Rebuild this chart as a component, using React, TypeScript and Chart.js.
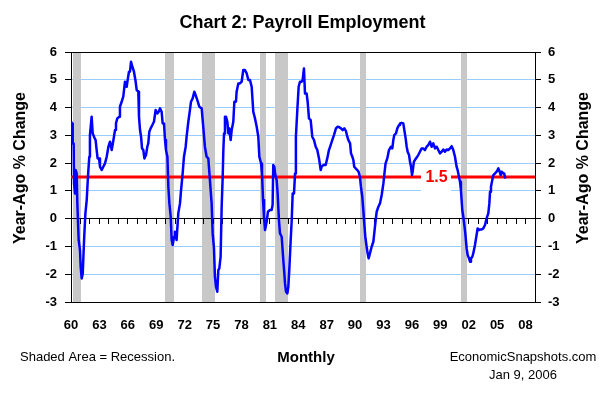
import React, { useEffect, useRef } from 'react';
import { Chart, registerables } from 'chart.js';

Chart.register(...registerables);

const FONT = '"Liberation Sans", Arial, Helvetica, sans-serif';

const chartTitle = 'Chart 2: Payroll Employment';
const yAxisTitle = 'Year-Ago % Change';
const xAxisTitle = 'Monthly';
const noteText = 'Shaded Area = Recession.';
const sourceText = 'EconomicSnapshots.com';
const dateText = 'Jan 9, 2006';

const xMin = 1960;
const xMax = 2009;
const yMin = -3;
const yMax = 6;

const labelYears = [1960, 1963, 1966, 1969, 1972, 1975, 1978, 1981, 1984, 1987, 1990, 1993, 1996, 1999, 2002, 2005, 2008];
const tickYears = [
  1961, 1962, 1963, 1964, 1965, 1966, 1967, 1968, 1969, 1970, 1971, 1972, 1973, 1974, 1975, 1976,
  1977, 1978, 1979, 1980, 1981, 1982, 1983, 1984, 1985, 1986, 1987, 1988, 1989, 1990, 1991, 1992,
  1993, 1994, 1995, 1996, 1997, 1998, 1999, 2000, 2001, 2002, 2003, 2004, 2005, 2006, 2007, 2008,
];

const recessionStarts = [1960.25, 1969.92, 1973.83, 1980.0, 1981.5, 1990.5, 2001.17];
const recessionEnds = [1961.1, 1970.87, 1975.2, 1980.55, 1982.87, 1991.2, 2001.87];

const refLevel = 1.5;
const refLabelYear = 1998.6;

// Payroll employment, year-ago % change
const dates = [
  1960.0, 1960.11, 1960.18, 1960.28, 1960.32, 1960.42, 1960.49, 1960.6, 1960.67, 1960.81,
  1960.95, 1961.02, 1961.13, 1961.24, 1961.38, 1961.52, 1961.66, 1961.79, 1961.93, 1962.0,
  1962.18, 1962.29, 1962.36, 1962.5, 1962.6, 1962.71, 1962.81, 1962.96, 1963.06, 1963.24,
  1963.41, 1963.59, 1963.77, 1963.95, 1964.12, 1964.3, 1964.48, 1964.65, 1964.75, 1964.89,
  1965.1, 1965.17, 1965.35, 1965.52, 1965.7, 1965.88, 1965.98, 1966.12, 1966.23, 1966.34,
  1966.48, 1966.65, 1966.83, 1966.94, 1967.11, 1967.18, 1967.29, 1967.4, 1967.5, 1967.64,
  1967.75, 1967.92, 1968.06, 1968.16, 1968.27, 1968.41, 1968.59, 1968.76, 1968.94, 1969.12,
  1969.26, 1969.4, 1969.57, 1969.68, 1969.82, 1969.93, 1970.03, 1970.18, 1970.28, 1970.39,
  1970.53, 1970.63, 1970.74, 1970.88, 1970.98, 1971.15, 1971.33, 1971.51, 1971.61, 1971.79,
  1971.93, 1972.11, 1972.21, 1972.39, 1972.56, 1972.67, 1972.85, 1973.02, 1973.16, 1973.34,
  1973.55, 1973.8, 1973.98, 1974.14, 1974.32, 1974.5, 1974.67, 1974.85, 1974.96, 1975.1,
  1975.2, 1975.31, 1975.45, 1975.56, 1975.66, 1975.8, 1975.91, 1976.02, 1976.09, 1976.16,
  1976.26, 1976.37, 1976.51, 1976.62, 1976.72, 1976.86, 1976.97, 1977.14, 1977.25, 1977.42,
  1977.49, 1977.67, 1977.84, 1978.02, 1978.19, 1978.37, 1978.55, 1978.73, 1978.9, 1979.08,
  1979.25, 1979.43, 1979.61, 1979.78, 1979.89, 1980.07, 1980.17, 1980.28, 1980.38, 1980.49,
  1980.66, 1980.8, 1981.01, 1981.19, 1981.29, 1981.36, 1981.47, 1981.58, 1981.72, 1981.82,
  1981.96, 1982.07, 1982.25, 1982.42, 1982.53, 1982.6, 1982.71, 1982.85, 1982.95, 1983.06,
  1983.2, 1983.31, 1983.41, 1983.55, 1983.66, 1983.75, 1983.9, 1984.04, 1984.18, 1984.36,
  1984.46, 1984.6, 1984.71, 1984.88, 1984.99, 1985.13, 1985.31, 1985.48, 1985.66, 1985.84,
  1986.01, 1986.19, 1986.37, 1986.47, 1986.65, 1986.89, 1987.06, 1987.24, 1987.42, 1987.59,
  1987.77, 1987.98, 1988.16, 1988.34, 1988.51, 1988.69, 1988.86, 1989.04, 1989.18, 1989.29,
  1989.47, 1989.57, 1989.71, 1989.82, 1989.91, 1990.06, 1990.23, 1990.37, 1990.51, 1990.62,
  1990.76, 1990.87, 1990.97, 1991.08, 1991.22, 1991.33, 1991.43, 1991.57, 1991.75, 1991.93,
  1992.1, 1992.28, 1992.46, 1992.63, 1992.81, 1992.99, 1993.08, 1993.22, 1993.4, 1993.58,
  1993.79, 1993.93, 1994.04, 1994.14, 1994.32, 1994.46, 1994.64, 1994.74, 1994.92, 1995.09,
  1995.2, 1995.34, 1995.45, 1995.55, 1995.7, 1995.8, 1995.91, 1996.01, 1996.08, 1996.21,
  1996.32, 1996.5, 1996.67, 1996.85, 1997.03, 1997.2, 1997.38, 1997.56, 1997.73, 1997.91,
  1998.09, 1998.26, 1998.44, 1998.62, 1998.79, 1998.97, 1999.15, 1999.32, 1999.49, 1999.67,
  1999.84, 2000.02, 2000.2, 2000.37, 2000.55, 2000.72, 2000.83, 2000.97, 2001.08, 2001.18,
  2001.32, 2001.43, 2001.54, 2001.64, 2001.78, 2001.89, 2002.03, 2002.14, 2002.24, 2002.38,
  2002.48, 2002.66, 2002.83, 2002.94, 2003.08, 2003.19, 2003.36, 2003.54, 2003.72, 2003.89,
  2004.07, 2004.18, 2004.25, 2004.35, 2004.49, 2004.6, 2004.78, 2004.95, 2005.13, 2005.23,
  2005.38, 2005.48, 2005.65, 2005.75, 2005.86,
];

const payroll = [
  3.49, 3.43, 2.71, 2.71, 1.27, 0.91, 1.75, 1.63, 0.55, -0.77,
  -1.13, -1.73, -2.15, -1.97, -0.77, 0.19, 0.67, 1.51, 2.23, 3.01,
  3.67, 3.07, 3.01, 2.89, 2.83, 2.47, 2.17, 2.17, 1.87, 1.75,
  1.87, 1.99, 2.23, 2.59, 2.77, 2.47, 2.83, 3.19, 3.43, 3.61,
  3.67, 4.03, 4.21, 4.39, 4.93, 4.75, 4.99, 5.29, 5.29, 5.65,
  5.47, 5.29, 4.93, 4.63, 4.57, 3.67, 3.19, 2.95, 2.53, 2.47,
  2.17, 2.29, 2.59, 2.71, 3.13, 3.25, 3.37, 3.49, 3.91, 3.79,
  3.85, 3.97, 3.85, 3.43, 3.43, 2.83, 2.47, 2.23, 1.15, 0.55,
  0.07, -0.77, -0.95, -0.65, -0.47, -0.77, 0.19, 0.55, 0.97, 1.63,
  2.23, 2.59, 2.95, 3.49, 3.91, 4.21, 4.33, 4.57, 4.45, 4.27,
  4.03, 3.97, 3.25, 2.59, 2.23, 2.17, 1.39, 0.55, -0.53, -1.07,
  -2.09, -2.45, -2.63, -1.85, -1.8, -1.37, 0.43, 1.51, 2.47, 3.07,
  3.67, 3.67, 3.49, 3.07, 3.25, 2.83, 3.19, 3.49, 4.21, 4.21,
  4.57, 4.87, 4.87, 4.93, 5.35, 5.35, 5.23, 4.99, 4.99, 4.75,
  3.85, 3.61, 3.31, 2.95, 2.23, 1.99, 1.63, 0.67, 0.07, -0.41,
  -0.11, 0.25, 0.31, 0.31, 0.49, 1.93, 1.87, 1.57, 1.39, 0.91,
  -0.05, -0.53, -0.65, -1.49, -1.97, -2.33, -2.63, -2.69, -2.45, -1.79,
  -0.77, -0.05, 0.91, 0.91, 1.63, 2.95, 3.91, 4.75, 4.93, 4.93,
  4.99, 5.41, 4.51, 4.51, 4.21, 3.61, 3.55, 2.95, 2.83, 2.59,
  2.47, 2.17, 1.75, 1.87, 1.93, 1.93, 2.17, 2.47, 2.65, 2.83,
  3.01, 3.25, 3.31, 3.29, 3.25, 3.19, 3.25, 3.15, 2.95, 2.83,
  2.71, 2.35, 2.23, 2.11, 1.87, 1.81, 1.75, 1.69, 1.51, 1.15,
  0.79, 0.31, -0.17, -0.65, -1.01, -1.25, -1.43, -1.25, -1.01, -0.83,
  -0.29, 0.25, 0.43, 0.55, 0.85, 1.27, 1.57, 1.99, 2.17, 2.47,
  2.59, 2.53, 2.83, 3.01, 3.07, 3.25, 3.37, 3.43, 3.45, 3.43,
  3.19, 2.89, 2.59, 2.41, 2.29, 2.05, 1.87, 1.57, 1.69, 2.05,
  2.11, 2.2, 2.29, 2.41, 2.53, 2.53, 2.47, 2.59, 2.65, 2.77,
  2.59, 2.71, 2.53, 2.59, 2.47, 2.35, 2.41, 2.49, 2.41, 2.49,
  2.47, 2.53, 2.61, 2.47, 2.23, 1.87, 1.75, 1.51, 1.33, 1.03,
  0.31, 0.07, -0.23, -0.53, -1.07, -1.31, -1.43, -1.55, -1.43, -1.37,
  -1.25, -0.95, -0.59, -0.35, -0.41, -0.39, -0.39, -0.35, -0.23, 0.01,
  0.19, 0.55, 0.97, 1.15, 1.39, 1.57, 1.63, 1.69, 1.81, 1.73,
  1.57, 1.69, 1.63, 1.63, 1.45,
];

const lineColor = '#0000FF';
const refColor = '#FF0000';
const gridColor = '#99CCFF';
const recessionColor = '#C8C8C8';

const decorPlugin = {
  id: 'decor',
  beforeDatasetsDraw(chart: any) {
    const { ctx, chartArea, scales } = chart;
    const xs = scales.x;
    const top = scales.y.getPixelForValue(yMax);
    const bottom = scales.y.getPixelForValue(yMin);
    ctx.save();
    ctx.fillStyle = recessionColor;
    recessionStarts.forEach((s, i) => {
      const x1 = Math.round(xs.getPixelForValue(s));
      const x2 = Math.round(xs.getPixelForValue(recessionEnds[i]));
      ctx.fillRect(x1, Math.round(top) + 1, x2 - x1, Math.round(bottom) - Math.round(top) - 1);
    });
    ctx.restore();
    const zeroAxis = scales.x0;
    ctx.save();
    zeroAxis.drawGrid(chartArea);
    zeroAxis.drawBorder();
    ctx.restore();
  },
  afterDatasetsDraw(chart: any) {
    const { ctx, scales } = chart;
    const x = scales.x.getPixelForValue(refLabelYear);
    const y = scales.y.getPixelForValue(refLevel);
    const txt = String(refLevel);
    ctx.save();
    ctx.font = `bold 16px ${FONT}`;
    const w = ctx.measureText(txt).width;
    ctx.fillStyle = '#FFFFFF';
    ctx.fillRect(Math.round(x - w / 2 - 4), Math.round(y - 12), Math.round(w + 8), 30);
    ctx.fillStyle = refColor;
    ctx.textAlign = 'center';
    ctx.textBaseline = 'middle';
    ctx.fillText(txt, x, y + 1);
    ctx.restore();
  },
  afterDraw(chart: any) {
    const { ctx } = chart;
    ctx.save();
    ctx.fillStyle = '#000000';
    ctx.textBaseline = 'middle';
    ctx.textAlign = 'center';
    ctx.font = `bold 16px ${FONT}`;
    [21, 584].forEach((cx) => {
      ctx.save();
      ctx.translate(cx, 168);
      ctx.rotate(-Math.PI / 2);
      ctx.fillText(yAxisTitle, 0, 0);
      ctx.restore();
    });
    ctx.font = `bold 15px ${FONT}`;
    ctx.fillText(xAxisTitle, 306, 358);
    ctx.font = `13px ${FONT}`;
    ctx.textAlign = 'left';
    ctx.fillText(noteText, 20, 357);
    ctx.textAlign = 'center';
    ctx.fillText(sourceText, 523, 357);
    ctx.fillText(dateText, 523, 375);
    ctx.restore();
  },
};

export default function App() {
  const ref = useRef<HTMLCanvasElement>(null);
  useEffect(() => {
    document.body.style.margin = '0';
    const canvas = ref.current;
    if (!canvas) return;
    const tickFont = { family: FONT, size: 13, weight: 'bold' as const };
    const chart = new Chart(canvas, {
      type: 'line',
      data: {
        datasets: [
          {
            label: 'Payroll',
            data: dates.map((d, i) => ({ x: d, y: payroll[i] })),
            borderColor: lineColor,
            borderWidth: 2.5,
            pointRadius: 0,
            tension: 0,
            borderJoinStyle: 'round',
            xAxisID: 'x',
            yAxisID: 'y',
            order: 0,
          },
          {
            label: 'Ref',
            data: [
              { x: xMin, y: refLevel },
              { x: xMax, y: refLevel },
            ],
            borderColor: refColor,
            borderWidth: 3,
            pointRadius: 0,
            xAxisID: 'x',
            yAxisID: 'y',
            order: 1,
          },
        ],
      },
      options: {
        responsive: false,
        animation: false,
        devicePixelRatio: 1,
        layout: { padding: 0 },
        events: [],
        plugins: {
          legend: { display: false },
          tooltip: { enabled: false },
          title: {
            display: true,
            text: chartTitle,
            color: '#000000',
            font: { family: FONT, size: 18, weight: 'bold' },
            padding: { top: 12, bottom: 18.4 },
          },
        },
        scales: {
          x: {
            type: 'linear',
            position: 'bottom',
            min: xMin,
            max: xMax,
            grid: { display: false, drawTicks: false },
            border: { display: true, color: '#000000', width: 1 },
            ticks: {
              font: tickFont,
              color: '#000000',
              padding: 16,
              autoSkip: false,
              maxRotation: 0,
              includeBounds: false,
              callback: (v: any) => String(Number(v) % 100).padStart(2, '0'),
            },
            afterBuildTicks: (s: any) => {
              s.ticks = labelYears.map((v) => ({ value: v }));
            },
            afterFit: (s: any) => {
              s.height = 93;
            },
          },
          x0: {
            type: 'linear',
            position: { y: 0 },
            min: xMin,
            max: xMax,
            ticks: { display: false },
            grid: { drawOnChartArea: false, drawTicks: true, tickLength: 5, tickColor: '#000000', color: '#000000' },
            border: { display: true, color: '#000000', width: 1 },
            afterBuildTicks: (s: any) => {
              s.ticks = tickYears.map((v) => ({ value: v }));
            },
          },
          y: {
            type: 'linear',
            position: 'left',
            min: yMin,
            max: yMax,
            ticks: { stepSize: 1, font: tickFont, color: '#000000', padding: 8 },
            grid: {
              color: (c: any) =>
                c.tick && (c.tick.value === 0 || c.tick.value === yMax || c.tick.value === yMin) ? '#000000' : gridColor,
              lineWidth: 1,
              drawTicks: true,
              tickLength: 6,
              tickColor: '#000000',
            },
            border: { display: true, color: '#000000', width: 1 },
            afterFit: (s: any) => {
              s.width = 71;
            },
          },
          y2: {
            type: 'linear',
            position: 'right',
            min: yMin,
            max: yMax,
            ticks: { stepSize: 1, font: tickFont, color: '#000000', padding: 7 },
            grid: { drawOnChartArea: false, drawTicks: true, tickLength: 6, tickColor: '#000000', color: '#000000' },
            border: { display: true, color: '#000000', width: 1 },
            afterFit: (s: any) => {
              s.width = 70;
            },
          },
        },
      },
      plugins: [decorPlugin],
    } as any);
    return () => chart.destroy();
  }, []);
  return (
    <div style={{ position: 'absolute', left: 0, top: 0, width: 605, height: 395, background: '#FFFFFF' }}>
      <canvas ref={ref} width={605} height={395} style={{ display: 'block', width: 605, height: 395 }} />
    </div>
  );
}
